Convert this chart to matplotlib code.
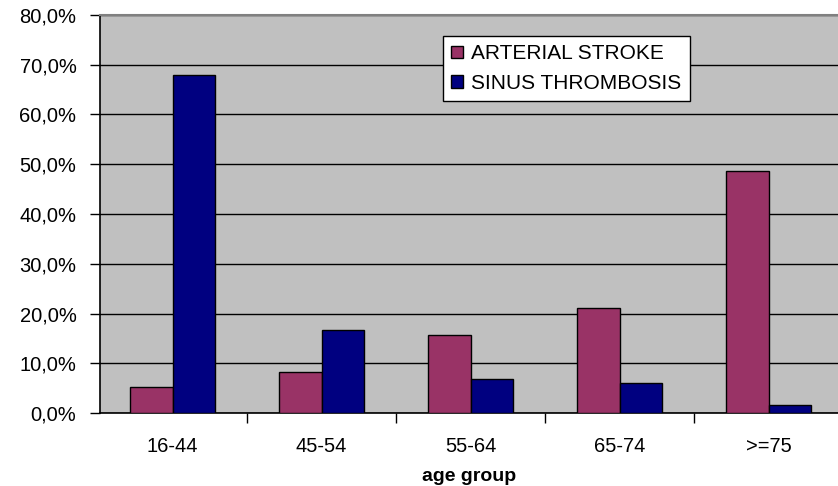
import numpy as np
import matplotlib.pyplot as plt
from matplotlib.ticker import FixedLocator

plt.rcParams['font.family'] = ['Liberation Sans', 'DejaVu Sans']

groups = ['16-44', '45-54', '55-64', '65-74', '>=75']
arterial = [5.3, 8.2, 15.6, 21.2, 48.6]
sinus = [67.9, 16.6, 6.9, 6.1, 1.7]
yticks = [0, 10, 20, 30, 40, 50, 60, 70, 80]

fig = plt.figure(figsize=(8.38, 4.86), dpi=100)
ax = fig.add_axes([100 / 838, 1 - 413 / 486, 738 / 838, 398 / 486])
ax.set_facecolor('#C0C0C0')

x = np.arange(len(groups))
w = 0.286
ax.bar(x - w / 2, arterial, w, color='#993366', edgecolor='black', linewidth=1.0,
       label='ARTERIAL STROKE', zorder=3)
ax.bar(x + w / 2, sinus, w, color='#000080', edgecolor='black', linewidth=1.0,
       label='SINUS THROMBOSIS', zorder=3)

ax.set_xlim(-0.487, 4.466)
ax.set_ylim(0, 80)
ax.set_yticks(yticks)
ax.set_yticklabels(['{:.1f}%'.format(v).replace('.', ',') for v in yticks], fontsize=14.5)
ax.yaxis.grid(True, color='black', linewidth=1.0, zorder=1)
ax.tick_params(axis='y', length=7, width=1, pad=10)

ax.set_xticks(x)
ax.set_xticklabels(groups, fontsize=14.5)
ax.tick_params(axis='x', which='major', length=0, pad=17)
ax.xaxis.set_minor_locator(FixedLocator([0.5, 1.5, 2.5, 3.5]))
ax.tick_params(axis='x', which='minor', length=7, width=1)

ax.spines['right'].set_visible(False)
ax.spines['top'].set_color('#808080')
ax.spines['top'].set_linewidth(1.5)
ax.spines['left'].set_linewidth(1.2)
ax.spines['bottom'].set_linewidth(1.2)

ax.set_xlabel('age group', fontsize=14, fontweight='bold', labelpad=9)

leg = ax.legend(loc='upper left', bbox_to_anchor=(343 / 738, 1 - 21 / 398),
                fontsize=15, frameon=True, fancybox=False, edgecolor='black',
                framealpha=1, handlelength=0.55, handleheight=0.55, handletextpad=0.4,
                borderpad=0.4, labelspacing=0.5, borderaxespad=0)
leg.get_frame().set_linewidth(1.0)

fig.savefig('out.png', dpi=100)
